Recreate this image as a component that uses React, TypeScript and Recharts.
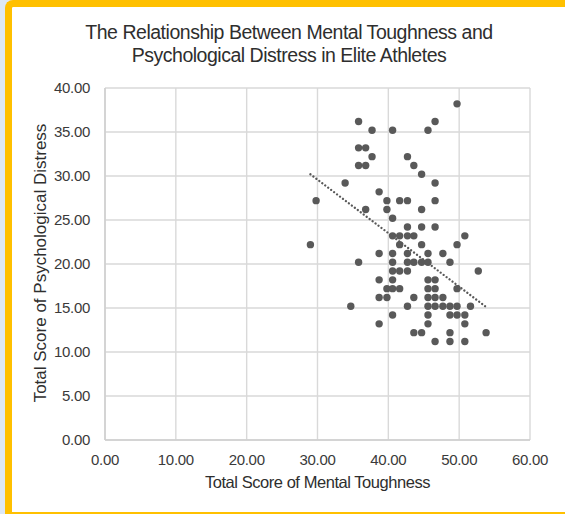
import { CartesianGrid, ReferenceLine, Scatter, ScatterChart, XAxis, YAxis } from "recharts";

// Total Score of Mental Toughness (x), one entry per athlete
const toughness = [
  49.7,
  35.8, 46.6,
  37.7, 40.6, 45.6,
  35.8, 36.8,
  37.7, 42.7,
  35.8, 36.8, 43.6,
  44.7,
  33.9, 46.6,
  38.7,
  29.8, 39.8, 41.6, 42.7, 46.6,
  36.8, 39.8, 44.7,
  40.6,
  42.7, 44.7, 46.6,
  40.6, 41.6, 42.7, 43.6, 50.8,
  29.0, 41.6, 44.7, 49.7,
  38.7, 40.6, 42.7, 45.6, 47.7,
  35.8, 40.6, 42.7, 43.6, 44.7, 45.6, 48.7,
  40.6, 41.6, 42.7, 52.7,
  38.7, 40.6, 45.6, 46.6,
  39.8, 40.6, 41.6, 45.6, 46.6, 49.7,
  38.7, 39.8, 43.6, 45.6, 46.6, 47.7,
  34.7, 42.7, 45.6, 46.6, 47.7, 48.7, 49.7, 51.6,
  40.6, 45.6, 48.7, 49.7, 50.8,
  38.7, 45.6, 50.8,
  43.6, 44.7, 48.7, 53.8,
  46.6, 48.7, 50.8,
];

// Total Score of Psychological Distress (y), same order
const distress = [
  38.2,
  36.2, 36.2,
  35.2, 35.2, 35.2,
  33.2, 33.2,
  32.2, 32.2,
  31.2, 31.2, 31.2,
  30.2,
  29.2, 29.2,
  28.2,
  27.2, 27.2, 27.2, 27.2, 27.2,
  26.2, 26.2, 26.2,
  25.2,
  24.2, 24.2, 24.2,
  23.2, 23.2, 23.2, 23.2, 23.2,
  22.2, 22.2, 22.2, 22.2,
  21.2, 21.2, 21.2, 21.2, 21.2,
  20.2, 20.2, 20.2, 20.2, 20.2, 20.2, 20.2,
  19.2, 19.2, 19.2, 19.2,
  18.2, 18.2, 18.2, 18.2,
  17.2, 17.2, 17.2, 17.2, 17.2, 17.2,
  16.2, 16.2, 16.2, 16.2, 16.2, 16.2,
  15.2, 15.2, 15.2, 15.2, 15.2, 15.2, 15.2, 15.2,
  14.2, 14.2, 14.2, 14.2, 14.2,
  13.2, 13.2, 13.2,
  12.2, 12.2, 12.2, 12.2,
  11.2, 11.2, 11.2,
];

// linear trendline end points
const trendX = [29, 54];
const trendY = [30.2, 15.0];

const xTicks = [0, 10, 20, 30, 40, 50, 60];
const yTicks = [0, 5, 10, 15, 20, 25, 30, 35, 40];

const data = toughness.map((x, i) => ({ x, y: distress[i] }));

const FONT = "'Liberation Sans', Arial, sans-serif";
const tickStyle = { fill: "#3a3a3a", fontSize: 15, fontFamily: FONT, letterSpacing: -0.3 };

export default function App() {
  return (
    <div style={{ position: "absolute", left: 0, top: 0, width: 565, height: 514, overflow: "hidden", background: "#dde8f5", fontFamily: FONT }}>
      <div
        style={{
          position: "absolute",
          left: 5,
          top: 0,
          width: 580,
          height: 514,
          boxSizing: "border-box",
          background: "#fff",
          borderTop: "7px solid #FFC000",
          borderLeft: "7px solid #FFC000",
          borderBottom: "2px solid #FFC000",
          borderTopLeftRadius: 8,
        }}
      />
      <div style={{ position: "absolute", left: 0, top: 0 }}>
        <ScatterChart width={565} height={514} margin={{ top: 88, right: 35, bottom: 0, left: 0 }}>
          <CartesianGrid stroke="#d9d9d9" strokeWidth={1.4} />
          <XAxis
            type="number"
            dataKey="x"
            domain={[0, 60]}
            ticks={xTicks}
            interval={0}
            height={74}
            tickLine={false}
            tickSize={0}
            tickMargin={14}
            axisLine={{ stroke: "#cfcfcf", strokeWidth: 1.5 }}
            tick={tickStyle}
            tickFormatter={(v: number) => v.toFixed(2)}
          />
          <YAxis
            type="number"
            dataKey="y"
            domain={[0, 40]}
            ticks={yTicks}
            interval={0}
            width={105}
            tickLine={false}
            tickSize={0}
            tickMargin={15}
            axisLine={{ stroke: "#cfcfcf", strokeWidth: 1.5 }}
            tick={tickStyle}
            tickFormatter={(v: number) => v.toFixed(2)}
          />
          <Scatter
            data={data}
            isAnimationActive={false}
            shape={(p: any) => <circle cx={p.cx} cy={p.cy} r={3.7} fill="#595959" />}
          />
          <ReferenceLine
            segment={[
              { x: trendX[0], y: trendY[0] },
              { x: trendX[1], y: trendY[1] },
            ]}
            stroke="#595959"
            strokeWidth={2.3}
            strokeDasharray="0.01 3.7"
            strokeLinecap="round"
          />
        </ScatterChart>
      </div>
      <svg width={565} height={514} style={{ position: "absolute", left: 0, top: 0, pointerEvents: "none" }}>
        <g fill="#2e2e2e" fontFamily={FONT}>
          <text x={289} y={38.5} textAnchor="middle" fontSize={19.5} letterSpacing={-0.48}>
            The Relationship Between Mental Toughness and
          </text>
          <text x={289} y={61.5} textAnchor="middle" fontSize={19.5} letterSpacing={-0.48}>
            Psychological Distress in Elite Athletes
          </text>
          <text x={317.5} y={488} textAnchor="middle" fontSize={16.5} letterSpacing={-0.45}>
            Total Score of Mental Toughness
          </text>
          <text x={40} y={263} textAnchor="middle" dominantBaseline="central" fontSize={17} transform="rotate(-90 40 263)">
            Total Score of Psychological Distress
          </text>
        </g>
      </svg>
    </div>
  );
}
